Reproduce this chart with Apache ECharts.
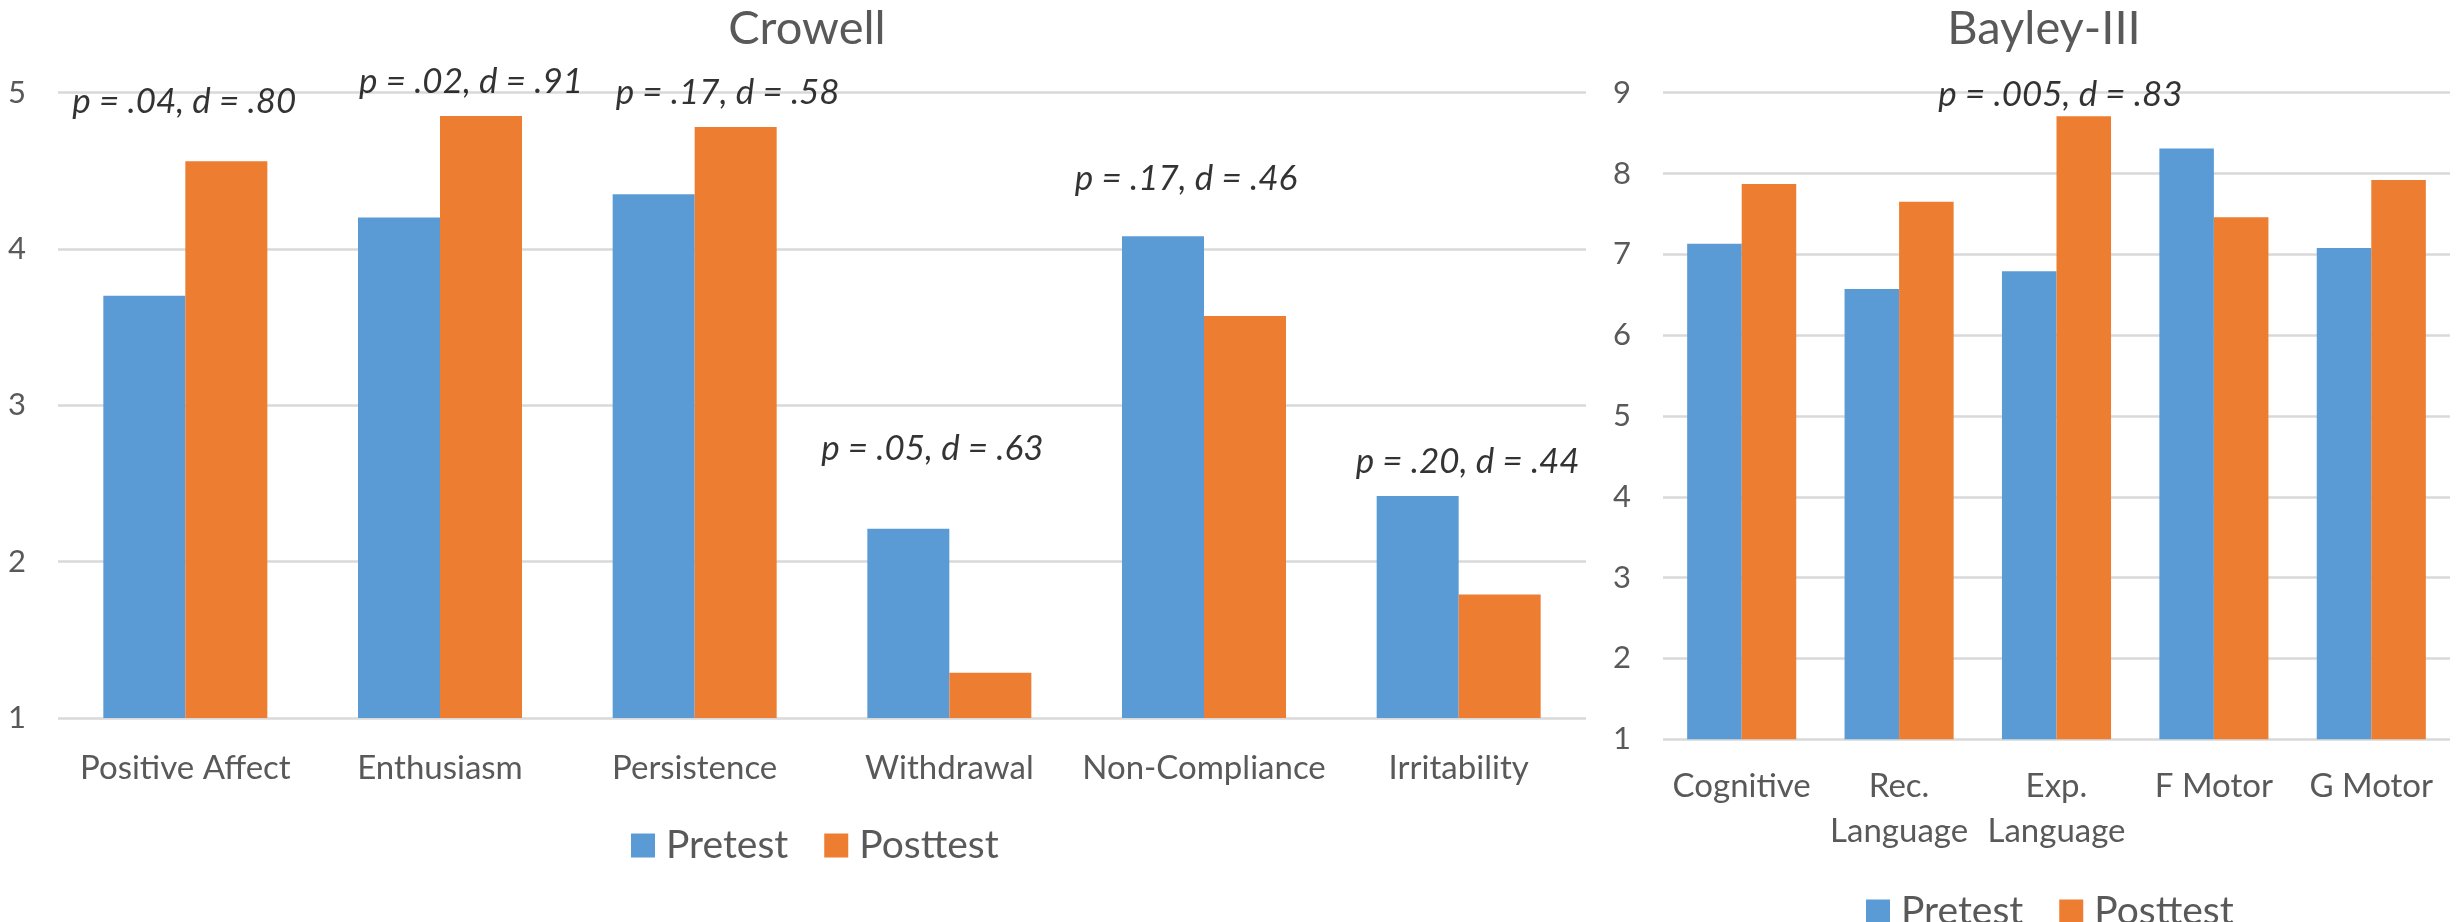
<!DOCTYPE html>
<html><head><meta charset="utf-8">
<script src="https://cdn.jsdelivr.net/npm/echarts@6/dist/echarts.min.js"></script>
<style>html,body{margin:0;padding:0;background:#fff}#c{width:2460px;height:922px}</style>
</head><body><div id="c"></div>
<script>
// ---------- data ----------
const crowellCategories = ['Positive Affect', 'Enthusiasm', 'Persistence', 'Withdrawal', 'Non-Compliance', 'Irritability'];
const crowellPretest  = [3.70, 4.20, 4.35, 2.21, 4.08, 2.42];
const crowellPosttest = [4.56, 4.85, 4.78, 1.29, 3.57, 1.79];
const crowellAnnotText = ['p = .04, d = .80', 'p = .02, d = .91', 'p = .17, d = .58', 'p = .05, d = .63', 'p = .17, d = .46', 'p = .20, d = .44'];
const crowellAnnotY = [4.94, 5.07, 5.00, 2.72, 4.45, 2.64];
const crowellTicks = [1, 2, 3, 4, 5];

const bayleyCategories = ['Cognitive', 'Rec. Language', 'Exp. Language', 'F Motor', 'G Motor'];
const bayleyPretest  = [7.13, 6.57, 6.79, 8.31, 7.08];
const bayleyPosttest = [7.87, 7.65, 8.71, 7.46, 7.92];
const bayleyAnnotText = ['', '', 'p = .005, d = .83', '', ''];
const bayleyAnnotY = [null, null, 8.97, null, null];
const bayleyTicks = [1, 2, 3, 4, 5, 6, 7, 8, 9];

const seriesNames = ['Pretest', 'Posttest'];

// ---------- style ----------
const FONT = 'Lato';
const GREY = '#595959';
const GRID = '#D9D9D9';
const BLUE = '#5B9BD5';
const ORANGE = '#ED7D31';
const crowellAnnotDx = [-1, 31, 33, -17, -18, 9];
const bayleyAnnotDx = [0, 0, 4, 0, 0];

function yAxis(gridIndex, ticks) {
  return {
    type: 'value', gridIndex,
    min: ticks[0], max: ticks[ticks.length - 1], interval: 1,
    axisLine: {show: false}, axisTick: {show: false},
    axisLabel: {color: GREY, fontFamily: FONT, fontSize: 31, margin: 32},
    splitLine: {show: true, lineStyle: {color: GRID, width: 2.5}}
  };
}
function xAxis(gridIndex, cats, margin) {
  return {
    type: 'category', gridIndex, data: cats,
    axisLine: {show: false}, axisTick: {show: false},
    axisLabel: {color: GREY, fontFamily: FONT, fontSize: 33, margin, interval: 0, lineHeight: 45,
      formatter: v => v.replace('. ', '.\n')}
  };
}
function annot(idx, texts, ys, dx) {
  return {
    type: 'scatter', xAxisIndex: idx, yAxisIndex: idx, symbolSize: 0, clip: false,
    silent: true, z: 10,
    data: ys.map((v, i) => v == null ? null : {value: [i, v], label: {offset: [dx[i], 0]}}),
    label: {show: true, position: 'inside', formatter: p => texts[p.dataIndex],
      color: '#000', fontFamily: FONT, fontStyle: 'italic', fontSize: 35}
  };
}
function bars(idx, pre, post, gap) {
  return [
    {name: seriesNames[0], type: 'bar', xAxisIndex: idx, yAxisIndex: idx, data: pre,
      itemStyle: {color: BLUE}, barGap: '0%', barCategoryGap: gap},
    {name: seriesNames[1], type: 'bar', xAxisIndex: idx, yAxisIndex: idx, data: post,
      itemStyle: {color: ORANGE}, barGap: '0%', barCategoryGap: gap}
  ];
}

const chart = echarts.init(document.getElementById('c'), null, {renderer: 'canvas'});
chart.setOption({
  animation: false,
  backgroundColor: '#fff',
  title: [
    {text: 'Crowell', left: 802, top: 0, textAlign: 'center',
      textStyle: {color: GREY, fontFamily: FONT, fontSize: 47, fontWeight: 'normal'}},
    {text: 'Bayley-III', left: 2039, top: 0, textAlign: 'center',
      textStyle: {color: GREY, fontFamily: FONT, fontSize: 47, fontWeight: 'normal'}}
  ],
  legend: [
    {data: seriesNames, left: 626, top: 821, itemWidth: 24, itemHeight: 24, itemGap: 36,
      icon: 'rect', textStyle: {color: GREY, fontFamily: FONT, fontSize: 39, padding: [0, 0, 0, 6]}},
    {data: seriesNames, left: 1861, top: 887, itemWidth: 24, itemHeight: 24, itemGap: 36,
      icon: 'rect', textStyle: {color: GREY, fontFamily: FONT, fontSize: 39, padding: [0, 0, 0, 6]}}
  ],
  grid: [
    {left: 58, right: 2460 - 1586, top: 92.5, bottom: 922 - 718},
    {left: 1663, right: 10, top: 92.7, bottom: 922 - 739.3}
  ],
  xAxis: [xAxis(0, crowellCategories, 28), xAxis(1, bayleyCategories, 25)],
  yAxis: [yAxis(0, crowellTicks), yAxis(1, bayleyTicks)],
  series: [
    ...bars(0, crowellPretest, crowellPosttest, '35.6%'),
    ...bars(1, bayleyPretest, bayleyPosttest, '30.7%'),
    annot(0, crowellAnnotText, crowellAnnotY, crowellAnnotDx),
    annot(1, bayleyAnnotText, bayleyAnnotY, bayleyAnnotDx)
  ]
});
</script></body></html>
